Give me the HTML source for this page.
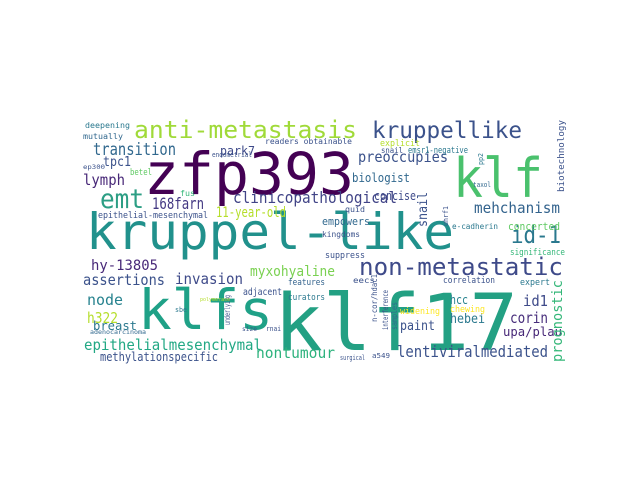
<!DOCTYPE html>
<html><head><meta charset="utf-8"><style>
html,body{margin:0;padding:0;background:#fff;width:640px;height:480px;overflow:hidden}
text{font-family:"DejaVu Sans Mono","Liberation Mono",monospace}
</style></head><body>
<svg width="640" height="480" viewBox="0 0 640 480" xmlns="http://www.w3.org/2000/svg">
<rect width="640" height="480" fill="#fff"/>
<g>
<text x="144" y="194" font-size="58" fill="#440154" textLength="210" lengthAdjust="spacingAndGlyphs">zfp393</text>
<text x="86" y="249" font-size="50" fill="#21918c" textLength="368" lengthAdjust="spacingAndGlyphs">kruppel-like</text>
<text x="274" y="350" font-size="78" fill="#23a083" textLength="244" lengthAdjust="spacingAndGlyphs">klf17</text>
<text x="138" y="329" font-size="55" fill="#1fa187" textLength="135" lengthAdjust="spacingAndGlyphs">klfs</text>
<text x="453" y="197" font-size="54" fill="#4ac16d" textLength="90" lengthAdjust="spacingAndGlyphs">klf</text>
<text x="134" y="138" font-size="24" fill="#a0da39" textLength="223" lengthAdjust="spacingAndGlyphs">anti-metastasis</text>
<text x="372" y="138" font-size="23" fill="#3b528b" textLength="150" lengthAdjust="spacingAndGlyphs">kruppellike</text>
<text x="100" y="208" font-size="27" fill="#2c9e84" textLength="44" lengthAdjust="spacingAndGlyphs">emt</text>
<text x="359" y="275" font-size="24" fill="#3e4a89" textLength="204" lengthAdjust="spacingAndGlyphs">non-metastatic</text>
<text x="511" y="243" font-size="24" fill="#2a788e" textLength="50" lengthAdjust="spacingAndGlyphs">id-1</text>
<text x="93" y="155" font-size="17" fill="#31688e" textLength="83" lengthAdjust="spacingAndGlyphs">transition</text>
<text x="358" y="162" font-size="15" fill="#3b528b" textLength="90" lengthAdjust="spacingAndGlyphs">preoccupies</text>
<text x="233" y="203" font-size="16" fill="#414487" textLength="164" lengthAdjust="spacingAndGlyphs">clinicopathological</text>
<text x="83" y="185" font-size="15" fill="#482878" textLength="42" lengthAdjust="spacingAndGlyphs">lymph</text>
<text x="103" y="166" font-size="13" fill="#3b528b" textLength="28" lengthAdjust="spacingAndGlyphs">tpc1</text>
<text x="220" y="155" font-size="12" fill="#3e4a89" textLength="35" lengthAdjust="spacingAndGlyphs">park7</text>
<text x="152" y="209" font-size="16" fill="#443983" textLength="52" lengthAdjust="spacingAndGlyphs">168farn</text>
<text x="216" y="217" font-size="14" fill="#b5de2b" textLength="70" lengthAdjust="spacingAndGlyphs">11-year-old</text>
<text x="98" y="218" font-size="9" fill="#3b528b" textLength="110" lengthAdjust="spacingAndGlyphs">epithelial-mesenchymal</text>
<text x="352" y="182" font-size="12" fill="#31688e" textLength="58" lengthAdjust="spacingAndGlyphs">biologist</text>
<text x="374" y="200" font-size="12" fill="#3e4a89" textLength="42" lengthAdjust="spacingAndGlyphs">concise</text>
<text transform="translate(427,227) rotate(-90)" font-size="13" fill="#3b528b" textLength="35" lengthAdjust="spacingAndGlyphs">snail</text>
<text x="474" y="213" font-size="15" fill="#33638d" textLength="86" lengthAdjust="spacingAndGlyphs">mehchanism</text>
<text x="508" y="230" font-size="11" fill="#5ec962" textLength="52" lengthAdjust="spacingAndGlyphs">concerted</text>
<text x="322" y="225" font-size="11" fill="#31688e" textLength="48" lengthAdjust="spacingAndGlyphs">empowers</text>
<text x="322" y="237" font-size="8" fill="#3b528b" textLength="38" lengthAdjust="spacingAndGlyphs">kingdoms</text>
<text x="452" y="229" font-size="8" fill="#2a788e" textLength="46" lengthAdjust="spacingAndGlyphs">e-cadherin</text>
<text x="250" y="276" font-size="14" fill="#7ad151" textLength="85" lengthAdjust="spacingAndGlyphs">myxohyaline</text>
<text x="91" y="270" font-size="14" fill="#482878" textLength="67" lengthAdjust="spacingAndGlyphs">hy-13805</text>
<text x="83" y="285" font-size="15" fill="#3b528b" textLength="82" lengthAdjust="spacingAndGlyphs">assertions</text>
<text x="175" y="284" font-size="15" fill="#3e4a89" textLength="68" lengthAdjust="spacingAndGlyphs">invasion</text>
<text x="87" y="305" font-size="15" fill="#26828e" textLength="36" lengthAdjust="spacingAndGlyphs">node</text>
<text x="87" y="323" font-size="15" fill="#b5de2b" textLength="31" lengthAdjust="spacingAndGlyphs">h322</text>
<text x="93" y="330" font-size="12" fill="#2a788e" textLength="44" lengthAdjust="spacingAndGlyphs">breast</text>
<text x="90" y="334" font-size="6" fill="#31688e" textLength="56" lengthAdjust="spacingAndGlyphs">adenocarcinoma</text>
<text x="84" y="350" font-size="15" fill="#22a884" textLength="178" lengthAdjust="spacingAndGlyphs">epithelialmesenchymal</text>
<text x="100" y="361" font-size="12" fill="#3b528b" textLength="118" lengthAdjust="spacingAndGlyphs">methylationspecific</text>
<text x="256" y="358" font-size="15" fill="#2db27d" textLength="79" lengthAdjust="spacingAndGlyphs">nontumour</text>
<text x="243" y="295" font-size="10" fill="#3b528b" textLength="39" lengthAdjust="spacingAndGlyphs">adjacent</text>
<text x="288" y="285" font-size="9" fill="#33638d" textLength="37" lengthAdjust="spacingAndGlyphs">features</text>
<text x="288" y="300" font-size="9" fill="#2a788e" textLength="37" lengthAdjust="spacingAndGlyphs">curators</text>
<text x="397" y="357" font-size="16" fill="#3b528b" textLength="151" lengthAdjust="spacingAndGlyphs">lentiviralmediated</text>
<text x="510" y="323" font-size="15" fill="#472d7b" textLength="38" lengthAdjust="spacingAndGlyphs">corin</text>
<text x="503" y="336" font-size="12" fill="#482878" textLength="59" lengthAdjust="spacingAndGlyphs">upa/plau</text>
<text x="523" y="306" font-size="15" fill="#3e4a89" textLength="25" lengthAdjust="spacingAndGlyphs">id1</text>
<text x="450" y="304" font-size="12" fill="#26828e" textLength="18" lengthAdjust="spacingAndGlyphs">hcc</text>
<text x="450" y="323" font-size="13" fill="#2a788e" textLength="35" lengthAdjust="spacingAndGlyphs">hebei</text>
<text x="400" y="330" font-size="13" fill="#3b528b" textLength="35" lengthAdjust="spacingAndGlyphs">paint</text>
<text transform="translate(562,362) rotate(-90)" font-size="14" fill="#35b779" textLength="82" lengthAdjust="spacingAndGlyphs">prognostic</text>
<text transform="translate(564,192) rotate(-90)" font-size="9" fill="#3b528b" textLength="72" lengthAdjust="spacingAndGlyphs">biotechnology</text>
<text x="510" y="255" font-size="9" fill="#35b779" textLength="55" lengthAdjust="spacingAndGlyphs">significance</text>
<text x="325" y="258" font-size="9" fill="#3b528b" textLength="40" lengthAdjust="spacingAndGlyphs">suppress</text>
<text x="520" y="285" font-size="9" fill="#2a788e" textLength="30" lengthAdjust="spacingAndGlyphs">expert</text>
<text x="443" y="283" font-size="9" fill="#3b528b" textLength="52" lengthAdjust="spacingAndGlyphs">correlation</text>
<text x="353" y="283" font-size="8" fill="#3b528b" textLength="22" lengthAdjust="spacingAndGlyphs">eecs</text>
<text x="400" y="314" font-size="9" fill="#fde725" textLength="40" lengthAdjust="spacingAndGlyphs">widening</text>
<text x="450" y="312" font-size="9" fill="#fde725" textLength="35" lengthAdjust="spacingAndGlyphs">chewing</text>
<text x="85" y="128" font-size="8" fill="#2a788e" textLength="45" lengthAdjust="spacingAndGlyphs">deepening</text>
<text x="83" y="139" font-size="8" fill="#31688e" textLength="40" lengthAdjust="spacingAndGlyphs">mutually</text>
<text x="265" y="144" font-size="8" fill="#3b528b" textLength="87" lengthAdjust="spacingAndGlyphs">readers obtainable</text>
<text x="381" y="153" font-size="8" fill="#3b528b" textLength="22" lengthAdjust="spacingAndGlyphs">snail</text>
<text x="408" y="153" font-size="9" fill="#2a788e" textLength="60" lengthAdjust="spacingAndGlyphs">emsr1-negative</text>
<text x="380" y="146" font-size="9" fill="#b5de2b" textLength="40" lengthAdjust="spacingAndGlyphs">explicit</text>
<text x="130" y="175" font-size="9" fill="#5ec962" textLength="22" lengthAdjust="spacingAndGlyphs">betel</text>
<text x="212" y="157" font-size="7" fill="#3b528b" textLength="40" lengthAdjust="spacingAndGlyphs">endometrial</text>
<text x="83" y="169" font-size="6" fill="#3b528b" textLength="22" lengthAdjust="spacingAndGlyphs">ep300</text>
<text x="180" y="196" font-size="8" fill="#35b779" textLength="15" lengthAdjust="spacingAndGlyphs">fus</text>
<text x="345" y="212" font-size="8" fill="#3b528b" textLength="20" lengthAdjust="spacingAndGlyphs">quid</text>
<text transform="translate(448,226) rotate(-90)" font-size="7" fill="#3b528b" textLength="20" lengthAdjust="spacingAndGlyphs">uhrf1</text>
<text transform="translate(483,165) rotate(-90)" font-size="7" fill="#2a788e" textLength="12" lengthAdjust="spacingAndGlyphs">pp2</text>
<text x="473" y="187" font-size="7" fill="#31688e" textLength="18" lengthAdjust="spacingAndGlyphs">taxol</text>
<text x="175" y="312" font-size="7" fill="#2a788e" textLength="12" lengthAdjust="spacingAndGlyphs">sbe</text>
<text x="266" y="331" font-size="7" fill="#3b528b" textLength="15" lengthAdjust="spacingAndGlyphs">rnai</text>
<text x="242" y="331" font-size="6" fill="#3b528b" textLength="15" lengthAdjust="spacingAndGlyphs">size</text>
<text x="340" y="360" font-size="7" fill="#3b528b" textLength="25" lengthAdjust="spacingAndGlyphs">surgical</text>
<text x="372" y="358" font-size="7" fill="#3b528b" textLength="18" lengthAdjust="spacingAndGlyphs">a549</text>
<text transform="translate(377,322) rotate(-90)" font-size="8" fill="#3b528b" textLength="48" lengthAdjust="spacingAndGlyphs">n-cor/hdac1</text>
<text transform="translate(388,330) rotate(-90)" font-size="8" fill="#3b528b" textLength="40" lengthAdjust="spacingAndGlyphs">interference</text>
<text transform="translate(397,330) rotate(-90)" font-size="8" fill="#31688e" textLength="28" lengthAdjust="spacingAndGlyphs">samples</text>
<text transform="translate(230,325) rotate(-90)" font-size="8" fill="#3b528b" textLength="30" lengthAdjust="spacingAndGlyphs">underlying</text>
<text x="200" y="301" font-size="5" fill="#b5de2b">polymerase</text>
</g>
</svg>
</body></html>
